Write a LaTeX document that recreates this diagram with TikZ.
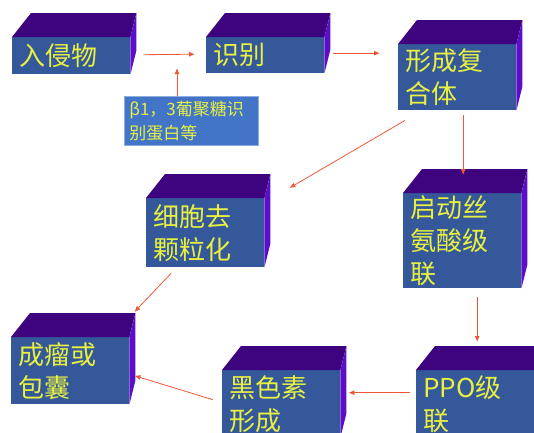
\documentclass[tikz,border=0pt]{standalone}
\usepackage{fontspec}
\newfontfamily\cjk{Noto Sans CJK SC}
\usepackage{tikz}
\usetikzlibrary{calc}
\usetikzlibrary{arrows.meta}

\definecolor{frontblue}{RGB}{52,88,154}
\definecolor{topviolet}{RGB}{62,4,128}
\definecolor{sideviolet}{RGB}{92,14,200}
\definecolor{noteblue}{RGB}{66,116,200}
\definecolor{textyellow}{RGB}{232,240,64}
\definecolor{arrowred}{RGB}{238,88,56}

\tikzset{
    cube/.style={fill=frontblue, text=textyellow, anchor=north west,
        font=\cjk\fontsize{26}{33}\selectfont, text width=104pt, align=left,
        inner xsep=7pt, inner ysep=0pt, minimum height=#1},
    flow/.style={->, >={Latex[length=6pt,width=5pt]}, draw=arrowred, line width=0.8pt}
}

\begin{document}
\begin{tikzpicture}[x=1pt, y=-1pt]
            \useasboundingbox (0,0) rectangle (534,432);
            \clip (0,0) rectangle (534,432);

            \node[cube=37] (invader) at (12,37) {入侵物};
            \node[cube=36] (recog) at (206,37) {识别};
            \node[cube=66] (complex) at (398,44) {形成复\\合体};
            \node[cube=95] (serine) at (403,193) {启动丝\\氨酸级\\联};
            \node[cube=69] (degran) at (146,198) {细胞去\\颗粒化};
            \node[cube=67] (tumor) at (11,337) {成瘤或\\包囊};
            \node[cube=67] (melanin) at (222,370) {黑色素\\形成};
            \node[cube=67] (ppo) at (416,370) {PPO级\\联};

            % top and side faces
            \foreach \n in {invader,recog,complex,serine,degran,tumor,melanin,ppo}{
                \fill[topviolet] (\n.north west) -- ++(19,-24) -- ($(\n.north east)+(6,-24)$) -- (\n.north east) -- cycle;
                \fill[sideviolet] (\n.north east) -- ++(6,-24) -- ($(\n.south east)+(6,-24)$) -- (\n.south east) -- cycle;
            }

            \node[fill=noteblue, draw=noteblue!60!white, line width=0.6pt, text=textyellow, anchor=north west,
                font=\cjk\fontsize{17}{24}\selectfont, text width=124pt, align=left,
                inner xsep=5pt, inner ysep=0pt, minimum height=49] (note) at (124,96) {β1，3葡聚糖识\\别蛋白等};
            \coordinate (tip) at (177,68);

            \draw[flow] ($(invader.east)+(13,-1)$) -- ($(recog.west)+(-11,-1)$);
            \draw[flow] (tip |- note.north) -- (tip);
            \draw[flow] ($(recog.east)+(9,-2)$) -- ($(recog.east -| complex.west)+(-18,-2)$);
            \draw[flow] ($(complex.south west)+(7,10)$) -- ($(degran.north east)+(25,-10)$);
            \draw[flow] ($(serine.north |- complex.south)+(1,5)$) -- ($(serine.north)+(1,-18)$);
            \draw[flow] ($(degran.south west)+(25,6)$) -- ($(tumor.north east)+(5,-25)$);
            \draw[flow] ($(ppo.north |- serine.south)+(2,9)$) -- ($(ppo.north)+(2,-28)$);
            \draw[flow] ($(ppo.west)+(-6,-11)$) -- ($(melanin.east)+(8,-11)$);
            \draw[flow] ($(melanin.west)+(-9,-4)$) -- ($(tumor.east)+(5,5)$);
\end{tikzpicture}
\end{document}
